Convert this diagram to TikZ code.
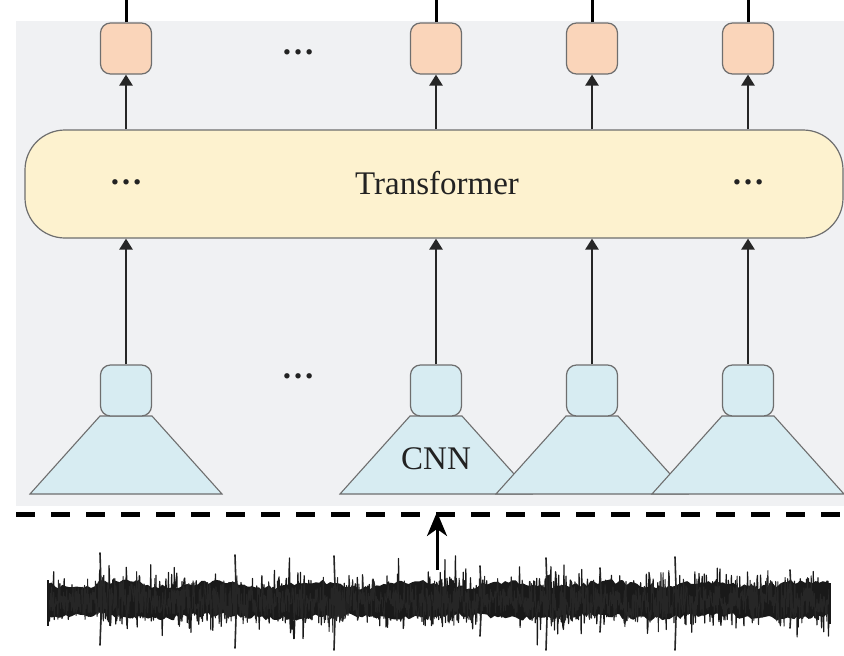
\documentclass[tikz,border=0pt]{standalone}
\usepackage{fontspec}
\setmainfont{Liberation Serif}
\usetikzlibrary{arrows.meta}
\definecolor{panelgray}{HTML}{F0F1F3}
\definecolor{outfill}{HTML}{FAD5BA}
\definecolor{trfill}{HTML}{FDF2CF}
\definecolor{featfill}{HTML}{D7ECF2}
\definecolor{edgegray}{HTML}{6E6E6E}
\definecolor{inktext}{HTML}{222222}
\tikzset{
  outbox/.style={draw=edgegray, line width=1.2pt, fill=outfill, rounded corners=10pt,
    minimum width=51pt, minimum height=51pt, inner sep=0pt},
  featbox/.style={draw=edgegray, line width=1.2pt, fill=featfill, rounded corners=10pt,
    minimum width=51pt, minimum height=51pt, inner sep=0pt},
  trbox/.style={draw=edgegray, line width=1.2pt, fill=trfill, rounded corners=40pt,
    minimum width=818pt, minimum height=108pt, inner sep=0pt},
  conv/.style={draw=edgegray, line width=1.1pt, fill=featfill},
  arr/.style={line width=2.5pt, draw=black!85, -{Triangle[width=13pt,length=11pt]}},
  lead/.style={line width=3pt, draw=black},
  lbl/.style={font=\fontsize{33}{38}\selectfont, text=inktext, inner sep=0pt},
  dotsl/.style={font=\fontsize{33}{38}\selectfont\bfseries, text=inktext, inner sep=0pt},
  spike/.style={line width=1.6pt, black!85, line cap=round},
}
\begin{document}
\begin{tikzpicture}[x=1pt, y=-1pt]
\useasboundingbox (0,0) rectangle (844,656);
\fill[white] (0,0) rectangle (844,656);
% grey panel behind the network
\fill[panelgray] (16,21) rectangle (844,506);

% transformer block
\node[trbox] (tr) at (434,184) {};
\node[lbl] (trlabel) at (437,183) {Transformer};
\node[dotsl] (trdl) at (126,182) {…};
\node[dotsl] (trdr) at (748,182) {…};

% output tokens
\foreach \n/\x in {1/126, 2/436, 3/592, 4/748} {
  \node[outbox] (o\n) at (\x,48.5) {};
  \coordinate (top\n) at (\x,0);
  \draw[lead] (o\n.north) -- (top\n);
  \draw[arr] (o\n |- tr.north) -- (o\n.south);
}
\node[dotsl] (odots) at (298,52) {…};

% convolutional feature encoders
\foreach \n/\x in {1/126, 2/436, 3/592, 4/748} {
  \draw[conv] (\x-26,416) -- (\x+26,416) -- (\x+96,494) -- (\x-96,494) -- cycle;
  \node[featbox] (f\n) at (\x,390.5) {};
  \draw[arr] (f\n.north) -- (f\n |- tr.south);
}
\node[lbl] (cnn) at (436,459) {CNN};
\node[dotsl] (fdots) at (298,376) {…};

% separator between raw input and network
\draw[line width=5pt, dash pattern=on 19pt off 16pt] (16,514) -- (844,514);

% raw waveform: dense core, bursty envelope, a few large spikes
\pgfmathsetseed{4217}
\fill[black!90] plot[samples=220, domain=48:830, smooth]
  (\x, {598 - 11 - 5*rnd - 3*sin(\x*3.7)})
  -- plot[samples=220, domain=830:48, smooth]
  (\x, {604 + 10 + 5*rnd + 2*sin(\x*2.9)}) -- cycle;
\draw[line width=1.2pt, black!90, line join=round]
  plot[samples=1500, domain=48:830]
  (\x, {601 + rand*(15 + 5*sin(\x*4.1) + 5*sin(\x*2.6+40) + 18*pow(rnd,2) + 24*pow(rnd,14))});
\draw[line width=1pt, black!85, line join=round]
  plot[samples=1500, domain=48:830]
  (\x, {601 + rand*(16 + 4*sin(\x*3.3+70) + 14*pow(rnd,3))});
\foreach \sx/\up/\dn in {100/553/645, 235/555/648, 334/556/650, 480/566/636,
                         546/558/650, 600/568/632, 675/557/650, 790/570/628} {
  \draw[spike] (\sx,\up) -- (\sx+1.5,602) -- (\sx,\dn);
}
% waveform ends
\draw[line width=2pt, black!90] (48,580) -- (48,626);
\draw[line width=2pt, black!90] (830,583) -- (830,624);

% input arrow
\coordinate (wavetop) at (437,570);
\coordinate (sep) at (437,512);
\draw[line width=3pt, -{Stealth[length=24pt,width=20pt,inset=7pt]}] (wavetop) -- (sep);
\end{tikzpicture}
\end{document}
